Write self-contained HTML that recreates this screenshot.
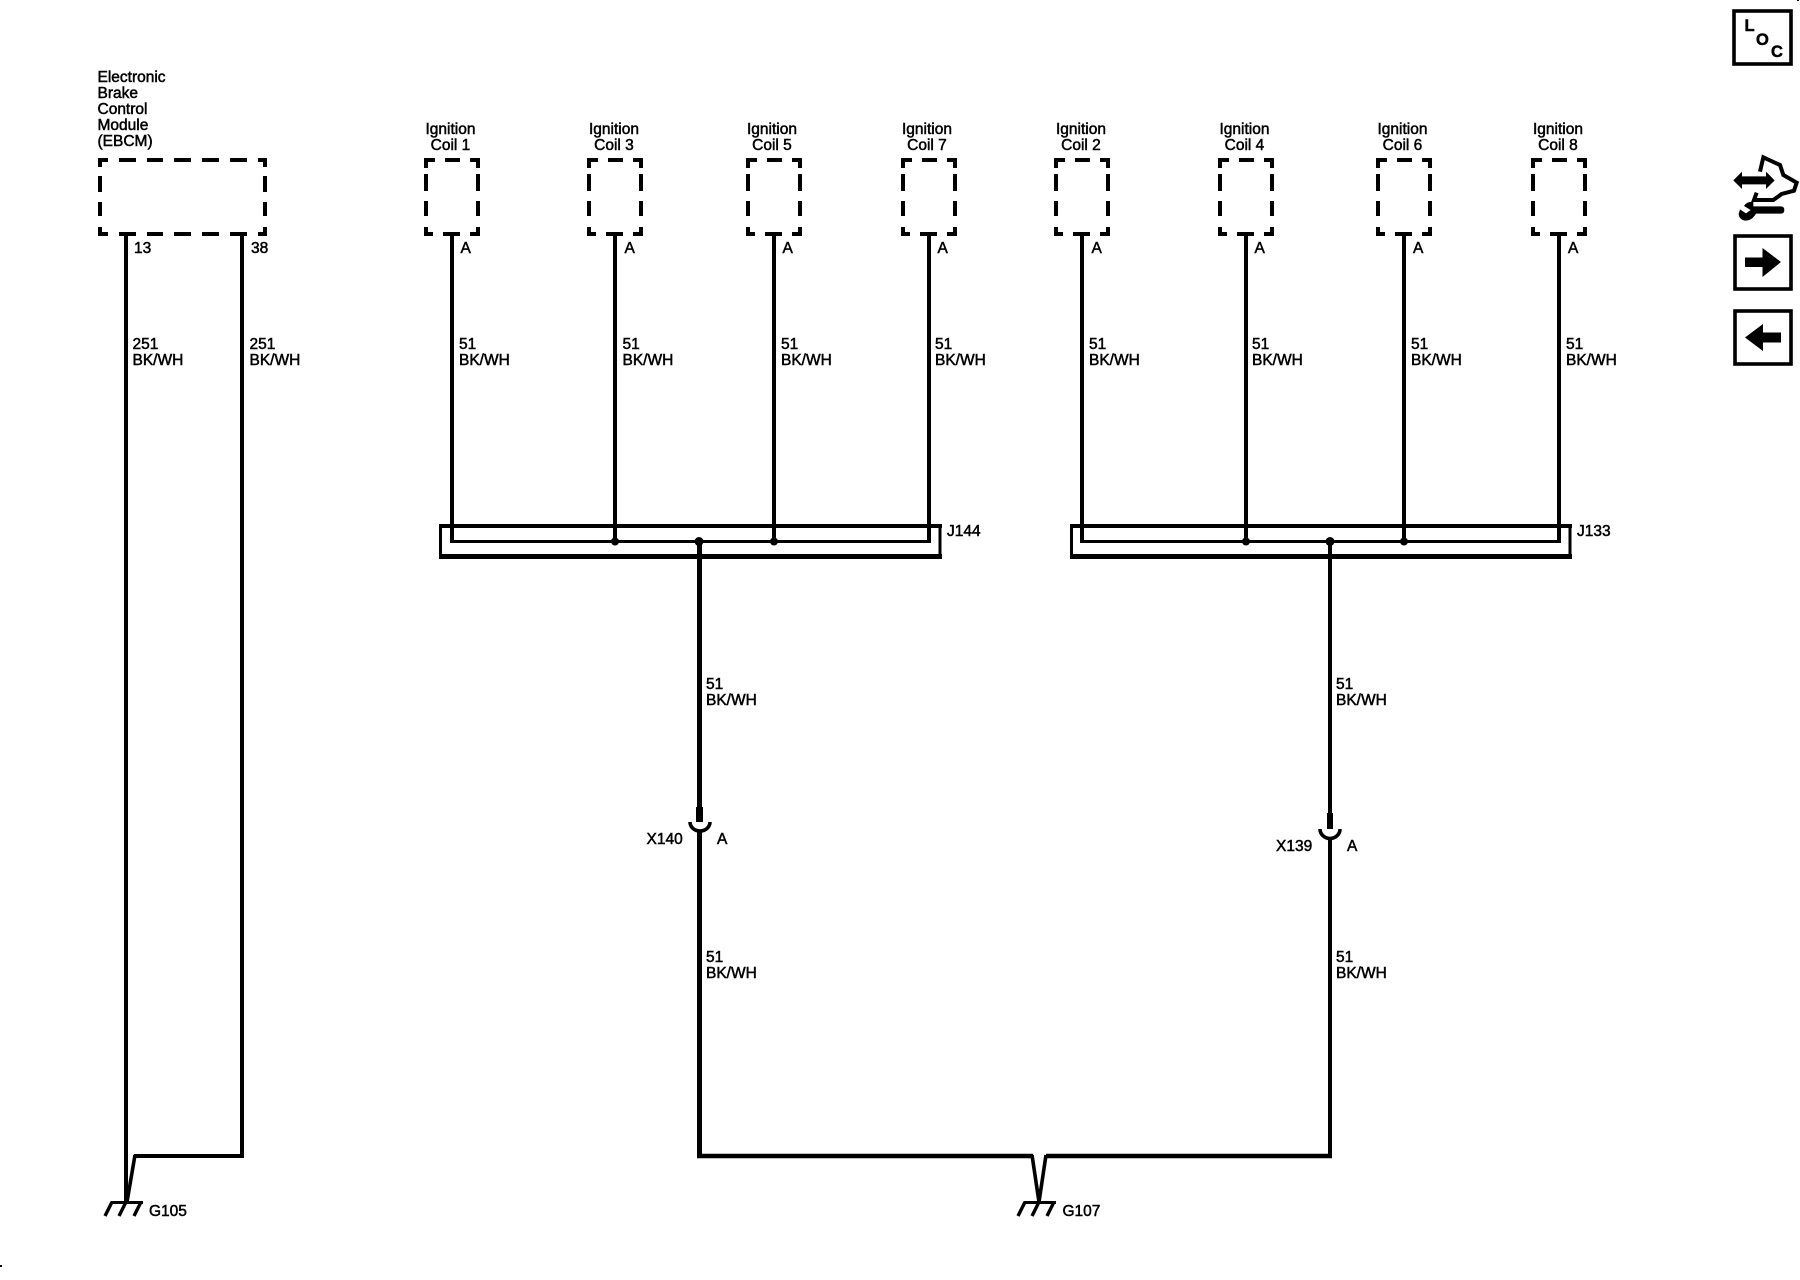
<!DOCTYPE html>
<html>
<head>
<meta charset="utf-8">
<style>
html,body{margin:0;padding:0;background:#fff;}
svg{display:block;}
text{font-family:"Liberation Sans",Arial,sans-serif;font-size:15.5px;fill:#000;stroke:#000;stroke-width:.5px;}
.w{fill:none;stroke:#000;stroke-linecap:butt;}
</style>
</head>
<body>
<svg width="1800" height="1280" viewBox="0 0 1800 1280" xmlns="http://www.w3.org/2000/svg">
<defs>
<g id="coil">
<path class="w" stroke-width="4" d="M-28,160H-17M-26,158V168M-7,160H8M18,160H28M26,158V168M-26,174V191M-26,201V216M-26,227V236M26,174V191M26,201V216M26,227V236M-28,234H-19M-9,234H8M18,234H28"/>
</g>
<g id="gnd">
<path class="w" stroke-width="3" d="M-15,1202.5H17"/>
<path class="w" stroke-width="3.4" d="M-14,1202L-21,1216M0,1202L-7,1216M15,1202L8,1216"/>
</g>
</defs>

<!-- EBCM -->
<path class="w" stroke-width="4" d="M98,160H108M100,158V167M119,160H136M147,160H163M174,160H191M202,160H219M230,160H247M258,160H267M265,158V167M100,176V192M100,202V216M100,227V236M265,176V192M265,202V216M265,227V236M98,234H108M119,234H136M147,234H163M174,234H191M202,234H219M230,234H247M258,234H267"/>
<text x="97.500" y="82">Electronic</text>
<text x="97.500" y="98">Brake</text>
<text x="97.500" y="114">Control</text>
<text x="97.500" y="130">Module</text>
<text x="97.500" y="146">(EBCM)</text>
<text x="134" y="253">13</text>
<text x="251" y="253">38</text>
<path class="w" stroke-width="4" d="M126,232V1202M242,232V1158"/>
<path class="w" stroke-width="4" d="M134,1156H244"/>
<path class="w" stroke-width="3.6" d="M135,1155L127,1202"/>
<text x="132.500" y="349">251</text><text x="132.500" y="365">BK/WH</text>
<text x="249.500" y="349">251</text><text x="249.500" y="365">BK/WH</text>
<use href="#gnd" x="126"/>
<text x="149" y="1216">G105</text>

<!-- Coils -->
<use href="#coil" x="452"/><use href="#coil" x="615"/><use href="#coil" x="774"/><use href="#coil" x="929"/>
<use href="#coil" x="1082"/><use href="#coil" x="1246"/><use href="#coil" x="1404"/><use href="#coil" x="1559"/>

<g text-anchor="middle">
<text x="450.500" y="134">Ignition</text><text x="450.500" y="150">Coil 1</text>
<text x="614" y="134">Ignition</text><text x="614" y="150">Coil 3</text>
<text x="772" y="134">Ignition</text><text x="772" y="150">Coil 5</text>
<text x="927" y="134">Ignition</text><text x="927" y="150">Coil 7</text>
<text x="1081" y="134">Ignition</text><text x="1081" y="150">Coil 2</text>
<text x="1244.500" y="134">Ignition</text><text x="1244.500" y="150">Coil 4</text>
<text x="1402.500" y="134">Ignition</text><text x="1402.500" y="150">Coil 6</text>
<text x="1558" y="134">Ignition</text><text x="1558" y="150">Coil 8</text>
</g>

<text x="460.500" y="253">A</text><text x="624.500" y="253">A</text><text x="782.500" y="253">A</text><text x="937.500" y="253">A</text>
<text x="1091.500" y="253">A</text><text x="1254.500" y="253">A</text><text x="1413" y="253">A</text><text x="1568" y="253">A</text>

<!-- coil wires -->
<path class="w" stroke-width="4" d="M452,232V543M615,232V543M774,232V543M929,232V543M1082,232V543M1246,232V543M1404,232V543M1559,232V543"/>

<text x="459" y="349">51</text><text x="459" y="365">BK/WH</text>
<text x="622.500" y="349">51</text><text x="622.500" y="365">BK/WH</text>
<text x="781" y="349">51</text><text x="781" y="365">BK/WH</text>
<text x="935" y="349">51</text><text x="935" y="365">BK/WH</text>
<text x="1089" y="349">51</text><text x="1089" y="365">BK/WH</text>
<text x="1252" y="349">51</text><text x="1252" y="365">BK/WH</text>
<text x="1411" y="349">51</text><text x="1411" y="365">BK/WH</text>
<text x="1566" y="349">51</text><text x="1566" y="365">BK/WH</text>

<!-- J144 -->
<path class="w" stroke-width="4" d="M439,526H942"/>
<path class="w" stroke-width="3" d="M440.5,524V558M940,524V558"/>
<path class="w" stroke-width="5" d="M439,556.5H942"/>
<path class="w" stroke-width="3" d="M450,541.5H931"/>
<circle cx="615" cy="541.5" r="4"/><circle cx="774" cy="541.5" r="4"/><circle cx="699" cy="541.5" r="4.5"/>
<text x="947" y="536">J144</text>

<!-- J133 -->
<path class="w" stroke-width="4" d="M1070,526H1572"/>
<path class="w" stroke-width="3" d="M1071.5,524V558M1570,524V558"/>
<path class="w" stroke-width="5" d="M1070,556.5H1572"/>
<path class="w" stroke-width="3" d="M1080,541.5H1561"/>
<circle cx="1246" cy="541.5" r="4"/><circle cx="1404" cy="541.5" r="4"/><circle cx="1330" cy="541.5" r="4.5"/>
<text x="1577" y="536">J133</text>

<!-- centre left feed -->
<path class="w" stroke-width="5" d="M699.5,541V808"/>
<path class="w" stroke-width="7" d="M699.5,807V822"/>
<path class="w" stroke-width="3.6" d="M690,822A10,9 0 0 0 710,822"/>
<path class="w" stroke-width="5" d="M699.5,830V1158"/>
<text x="706" y="689">51</text><text x="706" y="705">BK/WH</text>
<text x="646.500" y="844">X140</text><text x="717" y="844">A</text>
<text x="706" y="962">51</text><text x="706" y="978">BK/WH</text>

<!-- centre right feed -->
<path class="w" stroke-width="4" d="M1330,541V814"/>
<path class="w" stroke-width="6" d="M1330,813V829"/>
<path class="w" stroke-width="3.6" d="M1320,829A10,9.500 0 0 0 1340,829"/>
<path class="w" stroke-width="4" d="M1330,838V1158"/>
<text x="1336" y="689">51</text><text x="1336" y="705">BK/WH</text>
<text x="1276" y="851">X139</text><text x="1347" y="851">A</text>
<text x="1336" y="962">51</text><text x="1336" y="978">BK/WH</text>

<!-- G107 -->
<path class="w" stroke-width="4.600" d="M697,1156H1033M1046,1156H1332"/>
<path class="w" stroke-width="3.6" d="M1032,1155L1039,1202M1046,1155L1039,1202"/>
<use href="#gnd" x="1039"/>
<text x="1062.500" y="1216">G107</text>

<!-- icons -->
<rect x="1734" y="11" width="57" height="53" fill="none" stroke="#000" stroke-width="3.600"/>
<text x="1744.500" y="31" style="font-weight:bold;font-size:16.500px">L</text>
<text x="1756" y="45" style="font-weight:bold;font-size:16.500px">O</text>
<text x="1771" y="57" style="font-weight:bold;font-size:16.500px">C</text>

<g transform="translate(1680,0) scale(.33333)">
<path d="M160,541L186,515V529H258V515L284,541L258,567V553H186V567Z"/>
<path class="w" stroke-width="12" stroke-linejoin="miter" d="M240,515L250,472L300,495L310,525L350,548L342,572L305,582L280,600L222,600L230,578"/>
<path d="M220,619H302Q313,619 313,630Q313,641 302,641H228Q216,662 196,662Q178,660 176,642L180,628L198,640L212,630L192,618Q200,604 220,606Z"/>
</g>

<rect x="1735" y="236" width="56" height="53" fill="none" stroke="#000" stroke-width="3.600"/>
<path d="M1745,257.500H1762.500V248L1781,262L1762.500,277V267H1745Z"/>
<rect x="1735" y="311" width="56" height="53" fill="none" stroke="#000" stroke-width="3.600"/>
<path d="M1745,337.500L1763,324V332.500H1781V342.500H1763V351Z"/>

<rect x="0" y="1265" width="2" height="2"/>
<rect x="1797" y="0" width="2" height="1"/>
</svg>
</body>
</html>
